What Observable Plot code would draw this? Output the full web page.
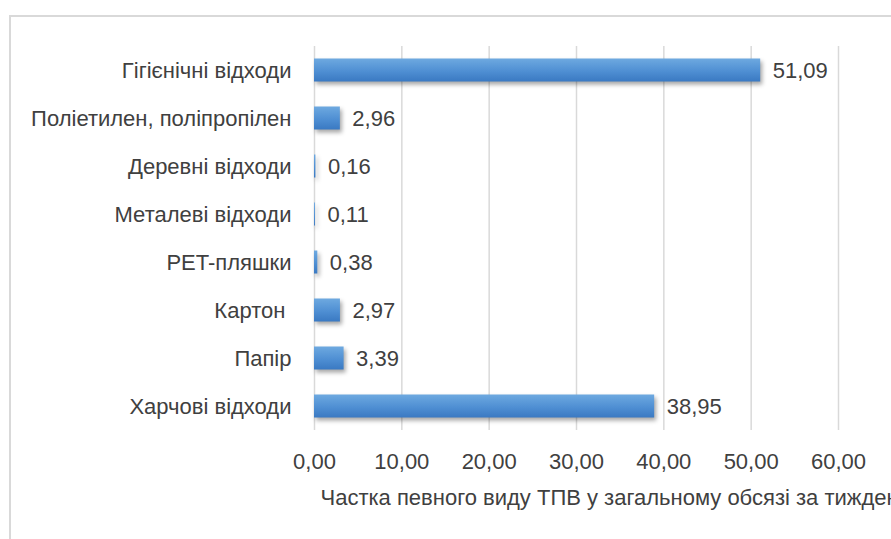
<!DOCTYPE html>
<html><head><meta charset="utf-8">
<script src="https://cdn.jsdelivr.net/npm/d3@7"></script>
<script src="https://cdn.jsdelivr.net/npm/@observablehq/plot@0.6"></script>
<style>
html,body{margin:0;padding:0;background:#fff;}
#wrap{position:relative;width:891px;height:539px;overflow:hidden;}
#frame{position:absolute;left:9px;top:15px;width:900px;height:600px;border-left:2px solid #d9d9d9;border-top:2px solid #d9d9d9;}
#chart{position:absolute;left:0;top:0;}
</style></head><body>
<div id="wrap"><div id="frame"></div><div id="chart"></div></div>
<script>
const categories = ["Гігієнічні відходи","Поліетилен, поліпропілен","Деревні відходи","Металеві відходи","PET-пляшки","Картон\u00a0","Папір","Харчові відходи"];
const values = [51.09, 2.96, 0.16, 0.11, 0.38, 2.97, 3.39, 38.95];
const xTicks = [0, 10, 20, 30, 40, 50, 60];
const xLabel = "Частка певного виду ТПВ у загальному обсязі за тиждень";

const data = categories.map((c, i) => ({category: c, value: values[i]}));
const fmt = d => d.toFixed(2).replace(".", ",");

const svg = Plot.plot({
  width: 891, height: 539,
  marginLeft: 314, marginRight: 53, marginTop: 46, marginBottom: 109,
  style: {fontFamily: "'Liberation Sans', Arial, sans-serif", fontSize: "22px", color: "#404040", background: "transparent"},
  x: {domain: [0, 60]},
  y: {domain: categories, padding: 0},
  marks: [
    Plot.gridX(xTicks, {stroke: "#d9d9d9", strokeWidth: 1.5, strokeOpacity: 1}),
    Plot.barX(data, {x: "value", y: "category", fill: "url(#barGrad)", insetTop: 12.5, insetBottom: 12.5}),
    Plot.text(data, {x: "value", y: "category", text: d => fmt(d.value), textAnchor: "start", dx: 12, fill: "#404040"}),
    Plot.axisX(xTicks, {tickSize: 0, tickPadding: 23, tickFormat: fmt, label: null, fill: "#404040"}),
    Plot.axisY({tickSize: 0, tickPadding: 23, label: null, fill: "#404040"}),
    Plot.text([xLabel], {frameAnchor: "bottom-left", lineAnchor: "middle", textAnchor: "start", dx: 6, dy: 67, fill: "#404040"})
  ]
});

const s = d3.select(svg);
const grad = s.insert("defs", ":first-child").append("linearGradient")
  .attr("id", "barGrad").attr("x1", 0).attr("y1", 0).attr("x2", 0).attr("y2", 1);
grad.append("stop").attr("offset", "0%").attr("stop-color", "#6ea9e0");
grad.append("stop").attr("offset", "55%").attr("stop-color", "#4f8fd3");
grad.append("stop").attr("offset", "100%").attr("stop-color", "#3a79c2");
s.selectAll("g[aria-label='bar'] rect").style("filter", "drop-shadow(2px 3px 2px rgba(0,0,0,0.35))");

document.getElementById("chart").appendChild(svg);
</script>
</body></html>
